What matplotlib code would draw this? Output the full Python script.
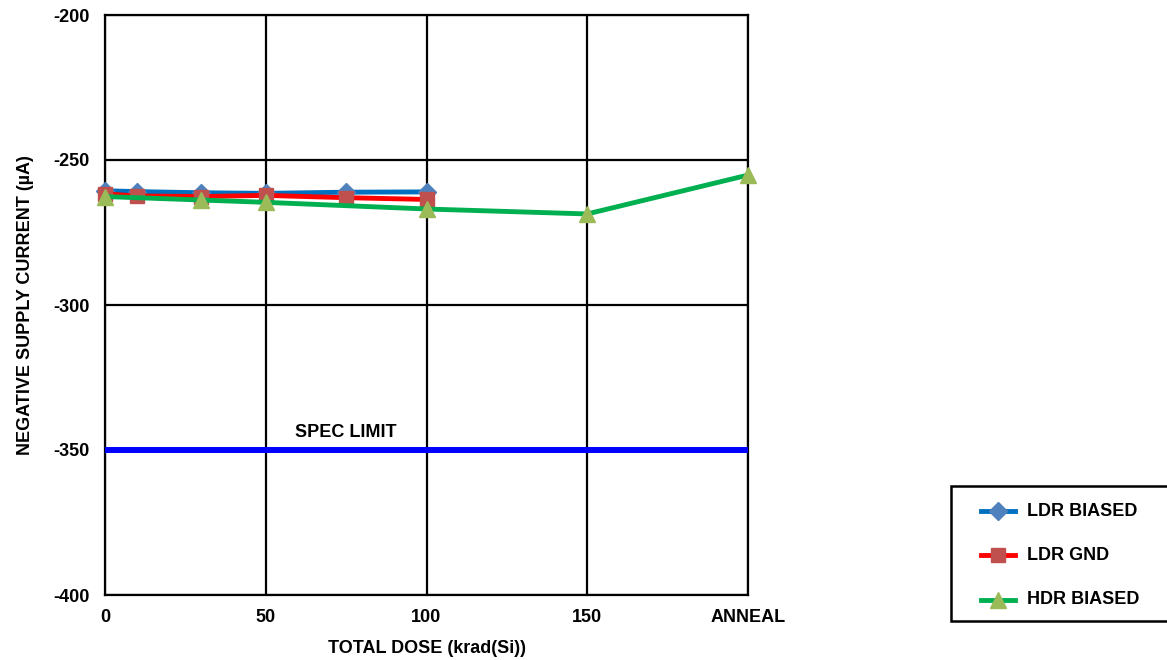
import matplotlib
matplotlib.use("Agg")
import matplotlib.pyplot as plt
from matplotlib.lines import Line2D
from matplotlib.patches import Rectangle

plt.rcParams['font.family'] = ['Liberation Sans', 'DejaVu Sans']
plt.rcParams['font.weight'] = 'bold'
plt.rcParams['axes.unicode_minus'] = False

# Data
ldr_biased_x = [0, 10, 30, 50, 75, 100]
ldr_biased_y = [-260.6, -260.9, -261.3, -261.5, -261.1, -261.0]
ldr_gnd_x = [0, 10, 30, 50, 75, 100]
ldr_gnd_y = [-261.7, -262.4, -262.6, -262.2, -263.0, -263.6]
hdr_biased_x = [0, 30, 50, 100, 150, 200]
hdr_biased_y = [-262.6, -263.8, -264.6, -266.9, -268.6, -255.2]
spec_limit = -350
x_ticks = [0, 50, 100, 150, 200]
x_tick_labels = ["0", "50", "100", "150", "ANNEAL"]
y_ticks = [-400, -350, -300, -250, -200]
series_names = ["LDR BIASED", "LDR GND", "HDR BIASED"]

FS = 13
W, H = 1167, 660

fig = plt.figure(figsize=(W/100, H/100), dpi=100)
ax = fig.add_axes([105/W, 1-595/H, (748-105)/W, (595-15)/H])

ax.set_xlim(0, 200)
ax.set_ylim(-400, -200)
ax.set_xticks(x_ticks)
ax.set_xticklabels(x_tick_labels)
ax.set_yticks(y_ticks)
ax.tick_params(axis='both', length=0, labelsize=FS)
ax.tick_params(axis='x', pad=10)
ax.tick_params(axis='y', pad=11)
for lab in ax.get_xticklabels() + ax.get_yticklabels():
    lab.set_fontweight('bold')
ax.grid(True, color='black', linewidth=1.6)
for s in ax.spines.values():
    s.set_linewidth(1.6)
    s.set_color('black')
ax.set_axisbelow(True)

ax.axhline(spec_limit, color='#0000FF', linewidth=4.3, zorder=3)
ax.text(75, -343.8, "SPEC LIMIT", ha='center', va='center',
        fontsize=FS, fontweight='bold')

styles = [
    dict(color='#0070C0', marker='D', markersize=9, mfc='#4F81BD'),
    dict(color='#FF0000', marker='s', markersize=10, mfc='#C0504D'),
    dict(color='#00B050', marker='^', markersize=11.5, mfc='#9BBB59'),
]
data = [(ldr_biased_x, ldr_biased_y), (ldr_gnd_x, ldr_gnd_y), (hdr_biased_x, hdr_biased_y)]
for i, ((xs, ys), st) in enumerate(zip(data, styles)):
    ax.plot(xs, ys, color=st['color'], linewidth=3.5, marker=st['marker'],
            markersize=st['markersize'], markerfacecolor=st['mfc'],
            markeredgecolor=st['mfc'], zorder=4 + i, clip_on=False)

ax.set_xlabel("TOTAL DOSE (krad(Si))", fontsize=FS, fontweight='bold', labelpad=10)
ax.set_ylabel("NEGATIVE SUPPLY CURRENT (µA)", fontsize=FS, fontweight='bold', labelpad=14)

# Legend (drawn manually to match box geometry)
fig.patches.append(Rectangle((951/W, 1-621/H), 240/W, 135/H, transform=fig.transFigure,
                             facecolor='white', edgecolor='black', linewidth=1.8))
row_y = [511, 555, 600]
for name, st, ry in zip(series_names, styles, row_y):
    yy = 1 - ry/H
    fig.add_artist(Line2D([981/W, 1015/W], [yy, yy], transform=fig.transFigure,
                          color=st['color'], linewidth=3.5))
    fig.add_artist(Line2D([998/W], [yy], transform=fig.transFigure, linestyle='none',
                          marker=st['marker'], markersize=st['markersize'],
                          markerfacecolor=st['mfc'], markeredgecolor=st['mfc']))
    fig.text(1027/W, yy, name, ha='left', va='center', fontsize=FS, fontweight='bold')

fig.savefig("out.png", dpi=100)
